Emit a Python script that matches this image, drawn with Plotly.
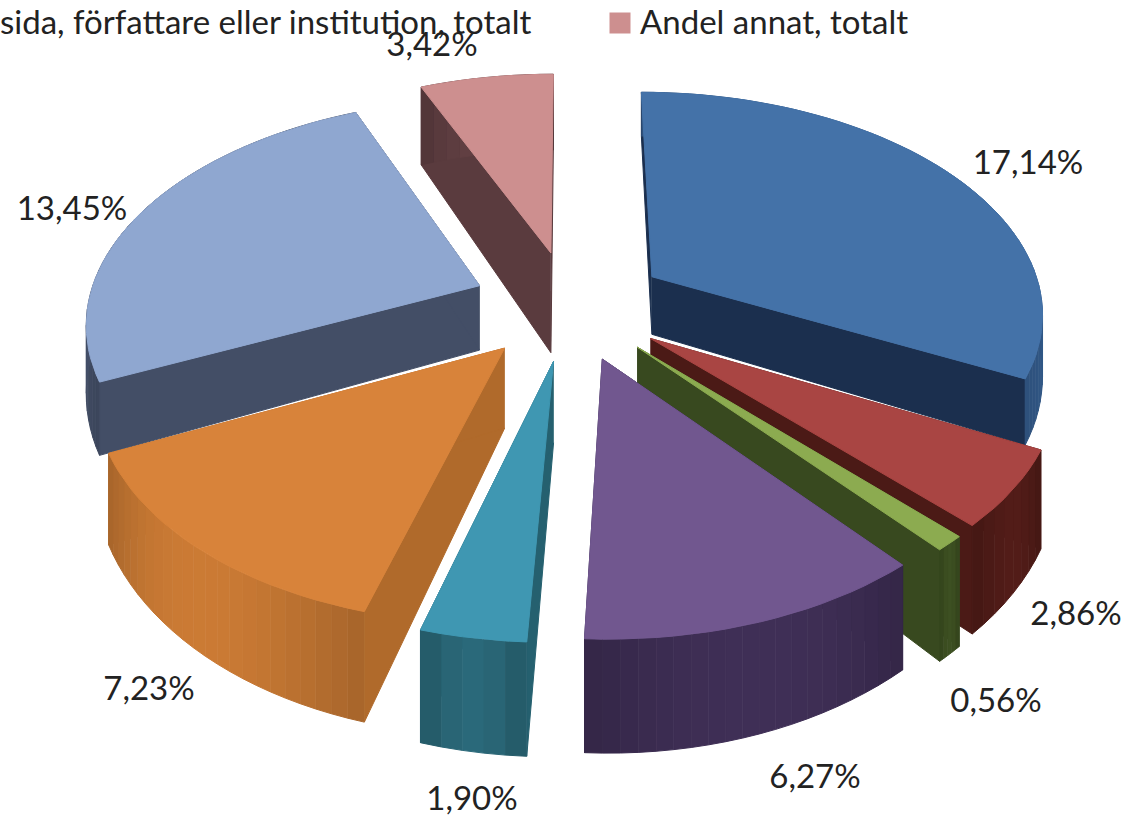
import numpy as np
import plotly.graph_objects as go

categories = ["Blå", "Röd", "Grön", "Lila", "Turkos", "Orange", "Ljusblå", "Andel annat, totalt"]
values = [17.14, 2.86, 0.56, 6.27, 1.90, 7.23, 13.45, 3.42]
labels = ["17,14%", "2,86%", "0,56%", "6,27%", "1,90%", "7,23%", "13,45%", "3,42%"]
top_colors = ["#4472A8", "#A94543", "#8CAB50", "#71578F", "#3F97B2", "#D8833A", "#8FA7D0", "#CD8F8F"]
side_colors = ["#1B2F4E", "#4B1A16", "#38491F", "#30244A", "#25606F", "#B06A2B", "#434E66", "#5A3B3E"]
wall_colors = ["#335A8A", "#4B1A16", "#38491F", "#3A2B4F", "#27606F", "#B97030", "#434E66", "#5A3B3E"]
depth_factor = [0.95, 1.3, 1.3, 1.2, 1.2, 1.2, 1.05, 1.7]
label_x = [1028, 1076, 996, 815, 472, 149, 72, 432]
label_y = [166, 617, 704, 780, 802, 692, 212, 48]
legend_left = "sida, författare eller institution, totalt"
legend_right = "Andel annat, totalt"

CX, CY, RX, RY, K, EXPL = 570, 305, 392, 220, 0.15, 0.25
DEPTH = 63
FONT = "Lato, sans-serif"


def proj(x, y, z=0.0):
    s = 1 / (1 + K * y)
    return CX + RX * x * s, CY - RY * y * s + z * DEPTH * s * s


def poly(fig, xs, ys, color):
    fig.add_trace(go.Scatter(x=xs, y=ys, mode="lines", fill="toself", fillcolor=color,
                             line=dict(color=color, width=1), hoverinfo="skip", showlegend=False))


def shade(hex_col, f):
    c = [int(hex_col[i:i + 2], 16) for i in (1, 3, 5)]
    return "#%02x%02x%02x" % tuple(int(min(255, v * f)) for v in c)


total = sum(values)
edges = np.concatenate([[0], np.cumsum(values)]) / total * 360
slices = []
for i in range(len(values)):
    a0, a1 = np.radians(edges[i]), np.radians(edges[i + 1])
    m = (a0 + a1) / 2
    ox, oy = EXPL * np.sin(m), EXPL * np.cos(m)
    slices.append((i, a0, a1, ox, oy))

fig = go.Figure()
order = [7, 6, 0, 1, 2, 5, 4, 3]
for i, a0, a1, ox, oy in (slices[j] for j in order):
    t = np.linspace(a0, a1, max(6, int(np.degrees(a1 - a0) / 2)))
    px, py = ox + np.sin(t), oy + np.cos(t)
    d = depth_factor[i]
    # radial faces
    for a in (a0, a1):
        ex, ey = ox + np.sin(a), oy + np.cos(a)
        pts = [proj(ox, oy), proj(ex, ey), proj(ex, ey, d), proj(ox, oy, d)]
        poly(fig, [p[0] for p in pts], [p[1] for p in pts], side_colors[i])
    # outer wall, faceted
    n = len(t)
    for k in range(n - 1):
        pts = [proj(px[k], py[k]), proj(px[k + 1], py[k + 1]),
               proj(px[k + 1], py[k + 1], d), proj(px[k], py[k], d)]
        f = 0.9 + 0.2 * np.sin((k + 0.5) / (n - 1) * np.pi)
        poly(fig, [p[0] for p in pts], [p[1] for p in pts], shade(wall_colors[i], f))
    # top
    tx, ty = proj(np.r_[ox, px, ox], np.r_[oy, py, oy])
    poly(fig, list(tx), list(ty), top_colors[i])

fig.add_trace(go.Scatter(x=label_x, y=label_y, text=labels, mode="text", hoverinfo="skip", showlegend=False,
                         textfont=dict(family=FONT, size=33, color="#222222")))
fig.add_trace(go.Scatter(x=[620], y=[23], mode="markers", hoverinfo="skip", showlegend=False,
                         marker=dict(symbol="square", size=21, color=top_colors[7])))
fig.add_annotation(x=534, y=21, text=legend_left, showarrow=False, xanchor="right",
                   font=dict(family=FONT, size=33, color="#222222"))
fig.add_annotation(x=638, y=21, text=legend_right, showarrow=False, xanchor="left",
                   font=dict(family=FONT, size=33, color="#222222"))

fig.update_layout(width=1126, height=821, margin=dict(l=0, r=0, t=0, b=0),
                  paper_bgcolor="white", plot_bgcolor="white",
                  xaxis=dict(range=[0, 1126], visible=False),
                  yaxis=dict(range=[821, 0], visible=False))
fig.write_html("out.html", config=dict(displayModeBar=False),
               post_script="document.body.style.margin='0';document.documentElement.style.overflow='hidden';")
